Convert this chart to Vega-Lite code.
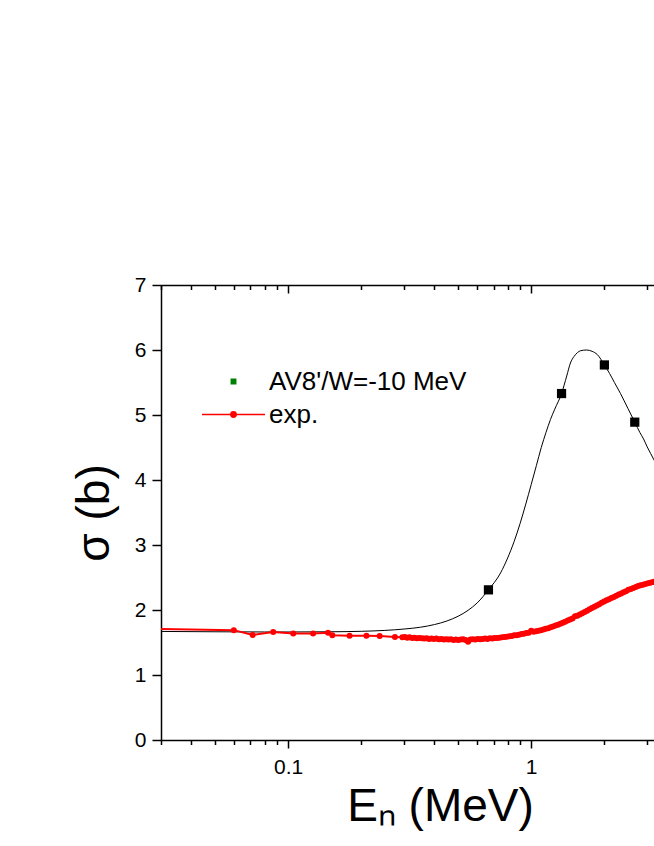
{
  "$schema": "https://vega.github.io/schema/vega-lite/v6.json",
  "autosize": {"type": "none"},
  "padding": {"left": 161, "top": 285, "right": 0, "bottom": 106},
  "width": 493,
  "height": 455,
  "background": "white",
  "config": {"view": {"stroke": null}, "font": "Liberation Sans"},
  "data": {"values": [
    {"series": "curve", "E": 0.03, "s": 1.67},
    {"series": "curve", "E": 0.05, "s": 1.665},
    {"series": "curve", "E": 0.08, "s": 1.662},
    {"series": "curve", "E": 0.1, "s": 1.662},
    {"series": "curve", "E": 0.15, "s": 1.665},
    {"series": "curve", "E": 0.2, "s": 1.672},
    {"series": "curve", "E": 0.25, "s": 1.686},
    {"series": "curve", "E": 0.3, "s": 1.707},
    {"series": "curve", "E": 0.35, "s": 1.735},
    {"series": "curve", "E": 0.4, "s": 1.776},
    {"series": "curve", "E": 0.45, "s": 1.831},
    {"series": "curve", "E": 0.5, "s": 1.903},
    {"series": "curve", "E": 0.55, "s": 1.995},
    {"series": "curve", "E": 0.6, "s": 2.11},
    {"series": "curve", "E": 0.667, "s": 2.31},
    {"series": "curve", "E": 0.748, "s": 2.57},
    {"series": "curve", "E": 0.8, "s": 2.8},
    {"series": "curve", "E": 0.85, "s": 3.05},
    {"series": "curve", "E": 0.9, "s": 3.33},
    {"series": "curve", "E": 0.95, "s": 3.63},
    {"series": "curve", "E": 1.0, "s": 3.93},
    {"series": "curve", "E": 1.05, "s": 4.22},
    {"series": "curve", "E": 1.1, "s": 4.5},
    {"series": "curve", "E": 1.15, "s": 4.73},
    {"series": "curve", "E": 1.2, "s": 4.93},
    {"series": "curve", "E": 1.25, "s": 5.09},
    {"series": "curve", "E": 1.333, "s": 5.33},
    {"series": "curve", "E": 1.4, "s": 5.6},
    {"series": "curve", "E": 1.45, "s": 5.8},
    {"series": "curve", "E": 1.5, "s": 5.9},
    {"series": "curve", "E": 1.55, "s": 5.96},
    {"series": "curve", "E": 1.6, "s": 5.99},
    {"series": "curve", "E": 1.69, "s": 6.0},
    {"series": "curve", "E": 1.78, "s": 5.98},
    {"series": "curve", "E": 1.87, "s": 5.93},
    {"series": "curve", "E": 2.0, "s": 5.77},
    {"series": "curve", "E": 2.1, "s": 5.64},
    {"series": "curve", "E": 2.2, "s": 5.5},
    {"series": "curve", "E": 2.33, "s": 5.33},
    {"series": "curve", "E": 2.5, "s": 5.1},
    {"series": "curve", "E": 2.667, "s": 4.89},
    {"series": "curve", "E": 2.8, "s": 4.73},
    {"series": "curve", "E": 2.9, "s": 4.63},
    {"series": "curve", "E": 3.0, "s": 4.51},
    {"series": "curve", "E": 3.2, "s": 4.31},
    {"series": "curve", "E": 3.5, "s": 4.0},
    {"series": "AV8'/W=-10 MeV", "E": 0.667, "s": 2.31},
    {"series": "AV8'/W=-10 MeV", "E": 1.333, "s": 5.33},
    {"series": "AV8'/W=-10 MeV", "E": 2.0, "s": 5.77},
    {"series": "AV8'/W=-10 MeV", "E": 2.667, "s": 4.89},
    {"series": "exp.", "E": 0.02, "s": 1.72},
    {"series": "exp.", "E": 0.0598, "s": 1.69},
    {"series": "exp.", "E": 0.0715, "s": 1.615},
    {"series": "exp.", "E": 0.0868, "s": 1.66},
    {"series": "exp.", "E": 0.105, "s": 1.64},
    {"series": "exp.", "E": 0.1267, "s": 1.64},
    {"series": "exp.", "E": 0.146, "s": 1.65},
    {"series": "exp.", "E": 0.152, "s": 1.61},
    {"series": "exp.", "E": 0.179, "s": 1.605},
    {"series": "exp.", "E": 0.21, "s": 1.605},
    {"series": "exp.", "E": 0.238, "s": 1.6},
    {"series": "exp.", "E": 0.275, "s": 1.585},
    {"series": "exp.", "E": 0.295, "s": 1.58},
    {"series": "exp.", "E": 0.302, "s": 1.585},
    {"series": "exp.", "E": 0.309, "s": 1.575},
    {"series": "exp.", "E": 0.316, "s": 1.58},
    {"series": "exp.", "E": 0.324, "s": 1.57},
    {"series": "exp.", "E": 0.331, "s": 1.575},
    {"series": "exp.", "E": 0.339, "s": 1.565},
    {"series": "exp.", "E": 0.347, "s": 1.57},
    {"series": "exp.", "E": 0.355, "s": 1.565},
    {"series": "exp.", "E": 0.363, "s": 1.56},
    {"series": "exp.", "E": 0.372, "s": 1.565},
    {"series": "exp.", "E": 0.38, "s": 1.555},
    {"series": "exp.", "E": 0.389, "s": 1.56},
    {"series": "exp.", "E": 0.398, "s": 1.555},
    {"series": "exp.", "E": 0.407, "s": 1.56},
    {"series": "exp.", "E": 0.417, "s": 1.55},
    {"series": "exp.", "E": 0.427, "s": 1.555},
    {"series": "exp.", "E": 0.437, "s": 1.545},
    {"series": "exp.", "E": 0.447, "s": 1.55},
    {"series": "exp.", "E": 0.457, "s": 1.545},
    {"series": "exp.", "E": 0.468, "s": 1.55},
    {"series": "exp.", "E": 0.479, "s": 1.54},
    {"series": "exp.", "E": 0.49, "s": 1.545},
    {"series": "exp.", "E": 0.501, "s": 1.54},
    {"series": "exp.", "E": 0.513, "s": 1.545},
    {"series": "exp.", "E": 0.525, "s": 1.55},
    {"series": "exp.", "E": 0.537, "s": 1.54},
    {"series": "exp.", "E": 0.55, "s": 1.51},
    {"series": "exp.", "E": 0.562, "s": 1.545},
    {"series": "exp.", "E": 0.575, "s": 1.55},
    {"series": "exp.", "E": 0.589, "s": 1.545},
    {"series": "exp.", "E": 0.603, "s": 1.555},
    {"series": "exp.", "E": 0.617, "s": 1.55},
    {"series": "exp.", "E": 0.631, "s": 1.555},
    {"series": "exp.", "E": 0.646, "s": 1.56},
    {"series": "exp.", "E": 0.661, "s": 1.555},
    {"series": "exp.", "E": 0.676, "s": 1.565},
    {"series": "exp.", "E": 0.692, "s": 1.56},
    {"series": "exp.", "E": 0.708, "s": 1.57},
    {"series": "exp.", "E": 0.724, "s": 1.57},
    {"series": "exp.", "E": 0.741, "s": 1.575},
    {"series": "exp.", "E": 0.759, "s": 1.58},
    {"series": "exp.", "E": 0.776, "s": 1.585},
    {"series": "exp.", "E": 0.794, "s": 1.59},
    {"series": "exp.", "E": 0.813, "s": 1.595},
    {"series": "exp.", "E": 0.832, "s": 1.6},
    {"series": "exp.", "E": 0.851, "s": 1.61},
    {"series": "exp.", "E": 0.871, "s": 1.61},
    {"series": "exp.", "E": 0.891, "s": 1.62},
    {"series": "exp.", "E": 0.912, "s": 1.63},
    {"series": "exp.", "E": 0.933, "s": 1.635},
    {"series": "exp.", "E": 0.955, "s": 1.645},
    {"series": "exp.", "E": 0.977, "s": 1.65},
    {"series": "exp.", "E": 1.0, "s": 1.68},
    {"series": "exp.", "E": 1.023, "s": 1.665},
    {"series": "exp.", "E": 1.047, "s": 1.675},
    {"series": "exp.", "E": 1.072, "s": 1.68},
    {"series": "exp.", "E": 1.096, "s": 1.69},
    {"series": "exp.", "E": 1.122, "s": 1.7},
    {"series": "exp.", "E": 1.148, "s": 1.71},
    {"series": "exp.", "E": 1.175, "s": 1.72},
    {"series": "exp.", "E": 1.202, "s": 1.735},
    {"series": "exp.", "E": 1.23, "s": 1.745},
    {"series": "exp.", "E": 1.259, "s": 1.76},
    {"series": "exp.", "E": 1.288, "s": 1.775},
    {"series": "exp.", "E": 1.318, "s": 1.79},
    {"series": "exp.", "E": 1.349, "s": 1.805},
    {"series": "exp.", "E": 1.38, "s": 1.82},
    {"series": "exp.", "E": 1.413, "s": 1.84},
    {"series": "exp.", "E": 1.445, "s": 1.855},
    {"series": "exp.", "E": 1.479, "s": 1.87},
    {"series": "exp.", "E": 1.514, "s": 1.905},
    {"series": "exp.", "E": 1.549, "s": 1.91},
    {"series": "exp.", "E": 1.585, "s": 1.93},
    {"series": "exp.", "E": 1.622, "s": 1.95},
    {"series": "exp.", "E": 1.66, "s": 1.97},
    {"series": "exp.", "E": 1.698, "s": 1.99},
    {"series": "exp.", "E": 1.738, "s": 2.01},
    {"series": "exp.", "E": 1.778, "s": 2.03},
    {"series": "exp.", "E": 1.82, "s": 2.05},
    {"series": "exp.", "E": 1.862, "s": 2.07},
    {"series": "exp.", "E": 1.905, "s": 2.09},
    {"series": "exp.", "E": 1.95, "s": 2.11},
    {"series": "exp.", "E": 1.995, "s": 2.13},
    {"series": "exp.", "E": 2.042, "s": 2.15},
    {"series": "exp.", "E": 2.089, "s": 2.165},
    {"series": "exp.", "E": 2.138, "s": 2.185},
    {"series": "exp.", "E": 2.188, "s": 2.2},
    {"series": "exp.", "E": 2.239, "s": 2.22},
    {"series": "exp.", "E": 2.291, "s": 2.24},
    {"series": "exp.", "E": 2.344, "s": 2.255},
    {"series": "exp.", "E": 2.399, "s": 2.275},
    {"series": "exp.", "E": 2.455, "s": 2.29},
    {"series": "exp.", "E": 2.512, "s": 2.31},
    {"series": "exp.", "E": 2.57, "s": 2.325},
    {"series": "exp.", "E": 2.63, "s": 2.34},
    {"series": "exp.", "E": 2.692, "s": 2.355},
    {"series": "exp.", "E": 2.754, "s": 2.37},
    {"series": "exp.", "E": 2.818, "s": 2.38},
    {"series": "exp.", "E": 2.884, "s": 2.39},
    {"series": "exp.", "E": 2.951, "s": 2.4},
    {"series": "exp.", "E": 3.02, "s": 2.41},
    {"series": "exp.", "E": 3.09, "s": 2.42},
    {"series": "exp.", "E": 3.162, "s": 2.43},
    {"series": "exp.", "E": 3.236, "s": 2.44},
    {"series": "exp.", "E": 3.311, "s": 2.445}
  ]},
  "resolve": {"axis": {"x": "independent"}},
  "layer": [
    {
      "transform": [{"filter": "datum.series === 'curve'"}],
      "mark": {"type": "line", "color": "black", "strokeWidth": 1, "interpolate": "monotone", "clip": true},
      "encoding": {
        "x": {"field": "E", "type": "quantitative",
          "scale": {"type": "log", "domain": [0.03, 3.2], "nice": false},
          "axis": {
            "orient": "bottom",
            "values": [0.03, 0.04, 0.05, 0.06, 0.07, 0.08, 0.09, 0.1, 0.2, 0.3, 0.4, 0.5, 0.6, 0.7, 0.8, 0.9, 1, 2, 3],
            "labelExpr": "datum.value == 0.1 ? '0.1' : (datum.value == 1 ? '1' : '')",
            "labelFont": "Liberation Sans", "labelFontSize": 21, "labelColor": "black", "labelPadding": 8,
            "labelOverlap": false, "labelFlush": false,
            "tickSize": {"condition": {"test": "datum.value == 0.1 || datum.value == 1", "value": 8}, "value": 4.5},
            "tickColor": "black", "tickWidth": 1.5,
            "domainColor": "black", "domainWidth": 1.5, "grid": false,
            "title": "Eₙ (MeV)", "titleFont": "Liberation Sans", "titleFontSize": 46, "titleFontWeight": "normal",
            "titleColor": "black", "titleX": 279, "titleY": 80, "titleAlign": "center", "titleBaseline": "alphabetic"
          }
        },
        "y": {"field": "s", "type": "quantitative",
          "scale": {"domain": [0, 7], "nice": false, "zero": false},
          "axis": {
            "orient": "left",
            "values": [0, 0.5, 1, 1.5, 2, 2.5, 3, 3.5, 4, 4.5, 5, 5.5, 6, 6.5, 7],
            "labelExpr": "datum.value % 1 === 0 ? format(datum.value, 'd') : ''",
            "labelFont": "Liberation Sans", "labelFontSize": 21, "labelColor": "black", "labelPadding": 6,
            "labelOverlap": false, "labelFlush": false,
            "tickSize": {"condition": {"test": "datum.value % 1 === 0", "value": 9}, "value": 5},
            "tickColor": "black", "tickWidth": 1.5,
            "domainColor": "black", "domainWidth": 1.5, "grid": false,
            "title": "σ (b)", "titleFont": "Liberation Sans", "titleFontSize": 46, "titleFontWeight": "normal",
            "titleColor": "black", "titleAngle": -90, "titleX": -53, "titleY": 227.5, "titleAlign": "center", "titleBaseline": "alphabetic"
          }
        }
      }
    },
    {
      "transform": [{"filter": "datum.series === 'AV8\\'/W=-10 MeV'"}],
      "mark": {"type": "point", "shape": "square", "filled": true, "color": "black", "size": 85, "opacity": 1, "clip": true},
      "encoding": {
        "x": {"field": "E", "type": "quantitative",
          "axis": {
            "orient": "top",
            "values": [0.03, 0.04, 0.05, 0.06, 0.07, 0.08, 0.09, 0.1, 0.2, 0.3, 0.4, 0.5, 0.6, 0.7, 0.8, 0.9, 1, 2, 3],
            "labels": false,
            "tickSize": {"condition": {"test": "datum.value == 0.1 || datum.value == 1", "value": -8}, "value": -4.5},
            "tickColor": "black", "tickWidth": 1.5,
            "domainColor": "black", "domainWidth": 1.5, "grid": false, "title": null
          }
        },
        "y": {"field": "s", "type": "quantitative"}
      }
    },
    {
      "transform": [{"filter": "datum.series === 'exp.'"}],
      "mark": {"type": "line", "color": "#ff0000", "strokeWidth": 2, "clip": true,
        "point": {"filled": true, "color": "#ff0000", "size": 36, "opacity": 1}},
      "encoding": {
        "x": {"field": "E", "type": "quantitative", "axis": null},
        "y": {"field": "s", "type": "quantitative"}
      }
    },
    {
      "transform": [{"filter": "datum.series !== 'curve'"}],
      "mark": {"type": "point", "filled": true, "opacity": 0, "clip": true},
      "encoding": {
        "x": {"field": "E", "type": "quantitative", "axis": null},
        "y": {"field": "s", "type": "quantitative"},
        "fill": {"field": "series", "type": "nominal",
          "scale": {"domain": ["AV8'/W=-10 MeV", "exp."], "range": ["#008000", "#ff0000"]},
          "legend": {"orient": "none", "legendX": 40, "legendY": 80, "title": null, "padding": 0,
            "labelFont": "Liberation Sans", "labelFontSize": 26, "labelColor": "black", "labelOffset": 3, "labelLimit": 0,
            "symbolSize": 3969, "rowPadding": 0, "clipHeight": 33,
            "encode": {"symbols": {"update": {"opacity": {"value": 1}, "strokeWidth": {"value": 1.5}}}}}
        },
        "stroke": {"field": "series", "type": "nominal",
          "scale": {"domain": ["AV8'/W=-10 MeV", "exp."], "range": ["#008000", "#ff0000"]},
          "legend": {"orient": "none", "legendX": 40, "legendY": 80, "title": null, "padding": 0,
            "labelFont": "Liberation Sans", "labelFontSize": 26, "labelColor": "black", "labelOffset": 3, "labelLimit": 0,
            "symbolSize": 3969, "rowPadding": 0, "clipHeight": 33,
            "encode": {"symbols": {"update": {"opacity": {"value": 1}, "strokeWidth": {"value": 1.5}}}}}
        },
        "shape": {"field": "series", "type": "nominal",
          "scale": {"domain": ["AV8'/W=-10 MeV", "exp."],
            "range": ["M-0.07,-0.07H0.07V0.07H-0.07Z", "M-1,0H-0.085A0.085,0.085 0 1,1 0.085,0H1M0.085,0A0.085,0.085 0 1,1 -0.085,0Z"]},
          "legend": {"orient": "none", "legendX": 40, "legendY": 80, "title": null, "padding": 0,
            "labelFont": "Liberation Sans", "labelFontSize": 26, "labelColor": "black", "labelOffset": 3, "labelLimit": 0,
            "symbolSize": 3969, "rowPadding": 0, "clipHeight": 33,
            "encode": {"symbols": {"update": {"opacity": {"value": 1}, "strokeWidth": {"value": 1.5}}}}}
        }
      }
    }
  ]
}
